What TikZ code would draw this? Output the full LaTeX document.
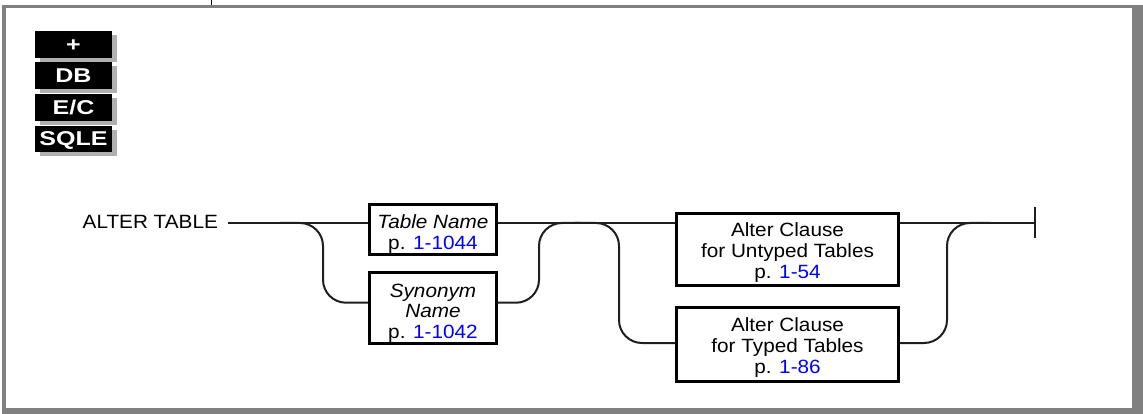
\documentclass[tikz,border=0pt]{standalone}
\usepackage{fontspec}
\setmainfont{Liberation Sans}[FakeStretch=1.08]
\newfontfamily\badgefont{Liberation Sans}[FakeStretch=1.25]
\usetikzlibrary{shadows}
\definecolor{framegray}{RGB}{128,128,128}
\definecolor{shadowgray}{RGB}{176,176,176}
\definecolor{wirec}{RGB}{30,30,30}
\definecolor{linkblue}{RGB}{0,0,255}
\newcommand{\lnk}[1]{\textcolor{linkblue}{#1}}
\begin{document}
\begin{tikzpicture}[x=1pt,y=-1pt,
  txt/.style={inner sep=0pt, align=center, font=\fontsize{19.2}{20.6}\selectfont},
  synbox/.style={draw=black, line width=3pt, inner sep=0pt},
  wire/.style={draw=wirec, line width=2pt, rounded corners=23pt},
  badge/.style={fill=black, text=white, inner sep=0pt, minimum width=77pt, minimum height=26.5pt,
    text height=14pt, text depth=0pt, font=\badgefont\bfseries\fontsize{20}{22}\selectfont,
    drop shadow={shadow xshift=5pt, shadow yshift=-4pt, fill=shadowgray, opacity=1}}]
\useasboundingbox (0,0) rectangle (1143,414);
% frame
\fill[framegray] (2,5) rectangle (1143,8);
\fill[framegray] (2,5) rectangle (6,414);
\fill[framegray] (1132,5) rectangle (1143,414);
\fill[framegray] (2,408) rectangle (1143,414);
\draw[black, line width=1pt] (211,0) -- (211,5);
% badges
\node[badge] (bplus) at (73.5,44.5) {+};
\node[badge] (bdb) at (73.5,75.5) {DB};
\node[badge] (bec) at (73.5,107.5) {E/C};
\node[badge] (bsqle) at (73.5,139) {SQLE};
% start label
\node[txt, anchor=base west] (AT) at (82.5,229) {ALTER TABLE};
% boxes
\node[synbox, minimum width=127pt, minimum height=50pt] (TN) at (433,229.5) {};
\node[synbox, minimum width=127pt, minimum height=71pt] (SN) at (433,308) {};
\node[synbox, minimum width=222pt, minimum height=72pt] (UT) at (787.5,249.5) {};
\node[synbox, minimum width=222pt, minimum height=74pt] (TT) at (787.5,344.5) {};
\node[txt] (tTN) at (433,234) {\textit{Table Name}\\p. \lnk{1-1044}};
\node[txt] (tSN) at (433,313) {\textit{Synonym}\\\textit{Name}\\p. \lnk{1-1042}};
\node[txt] (tUT) at (787.5,252.5) {Alter Clause\\for Untyped Tables\\p. \lnk{1-54}};
\node[txt] (tTT) at (787.5,347.5) {Alter Clause\\for Typed Tables\\p. \lnk{1-86}};
% coordinates
\coordinate (row) at (0,223);
\coordinate (a0) at ([xshift=10pt]AT.east);
\coordinate (endbar) at (1035,223);
\coordinate (endtop) at (1035,207);
\coordinate (endbot) at (1035,238);
% main line
\draw[wire] (a0 |- row) -- (TN.west |- row);
\draw[wire] (TN.east |- row) -- (UT.west |- row);
\draw[wire] (UT.east |- row) -- (endbar);
\draw[wirec, line width=2pt] (endtop) -- (endbot);
% branch 1
\coordinate (s1a) at (280,223);
\coordinate (s1b) at (323,223);
\coordinate (s1c) at (323,302.7);
\draw[wire] (s1a) -- (s1b) -- (s1c) -- (SN.west |- s1c);
% merge 1
\coordinate (m1a) at (539,302.7);
\coordinate (m1b) at (539,223);
\coordinate (m1c) at (580,223);
\draw[wire] (SN.east |- m1a) -- (m1a) -- (m1b) -- (m1c);
% branch 2
\coordinate (s2a) at (575,223);
\coordinate (s2b) at (619,223);
\coordinate (s2c) at (619,343);
\draw[wire] (s2a) -- (s2b) -- (s2c) -- (TT.west |- s2c);
% merge 2
\coordinate (m2a) at (947,343);
\coordinate (m2b) at (947,223);
\coordinate (m2c) at (990,223);
\draw[wire] (TT.east |- m2a) -- (m2a) -- (m2b) -- (m2c);
\end{tikzpicture}
\end{document}
